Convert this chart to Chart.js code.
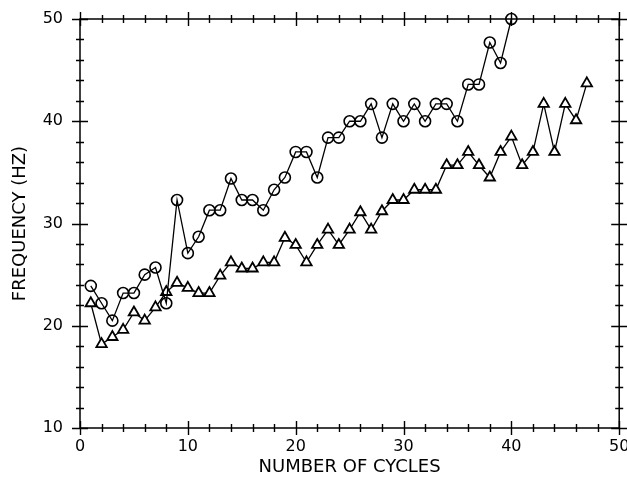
<!DOCTYPE html>
<html>
<head>
<meta charset="utf-8">
<script src="https://cdn.jsdelivr.net/npm/chart.js@4.4.1/dist/chart.umd.min.js"></script>
<style>
  html, body { margin: 0; padding: 0; background: #fff; }
  #wrap { width: 627px; height: 482px; }
</style>
</head>
<body>
<div id="wrap"><canvas id="chart" width="627" height="482"></canvas></div>
<script>
// cycle numbers
const circleCycles = [1, 2, 3, 4, 5, 6, 7, 8, 9, 10, 11, 12, 13, 14, 15, 16, 17, 18, 19, 20,
    21, 22, 23, 24, 25, 26, 27, 28, 29, 30, 31, 32, 33, 34, 35, 36, 37, 38, 39, 40];
const triangleCycles = [1, 2, 3, 4, 5, 6, 7, 8, 9, 10, 11, 12, 13, 14, 15, 16, 17, 18, 19, 20,
    21, 22, 23, 24, 25, 26, 27, 28, 29, 30, 31, 32, 33, 34, 35, 36, 37, 38, 39, 40,
    41, 42, 43, 44, 45, 46, 47];

// frequency (Hz)
const circleFreq = [23.9, 22.2, 20.5, 23.2, 23.2, 25.0, 25.7, 22.2, 32.3, 27.1,
    28.7, 31.3, 31.3, 34.4, 32.3, 32.3, 31.3, 33.3, 34.5, 37.0,
    37.0, 34.5, 38.4, 38.4, 40.0, 40.0, 41.7, 38.4, 41.7, 40.0,
    41.7, 40.0, 41.7, 41.7, 40.0, 43.6, 43.6, 47.7, 45.7, 50.0];
const triangleFreq = [22.2, 18.2, 18.9, 19.6, 21.3, 20.5, 21.8, 23.3, 24.2, 23.7,
    23.2, 23.2, 24.9, 26.2, 25.6, 25.6, 26.2, 26.2, 28.6, 27.9,
    26.2, 27.9, 29.4, 27.9, 29.4, 31.1, 29.4, 31.2, 32.3, 32.3,
    33.3, 33.3, 33.3, 35.7, 35.7, 37.0, 35.7, 34.5, 37.0, 38.5,
    35.7, 37.0, 41.7, 37.0, 41.7, 40.1, 43.7];

// axis ticks
const xTicks = [0, 10, 20, 30, 40, 50];
const yTicks = [10, 20, 30, 40, 50];

const toPoints = (xs, ys) => xs.map((x, i) => ({ x: x, y: ys[i] }));

// draws the little cross ticks on all four sides of the frame
const frameTicks = {
    id: 'frameTicks',
    beforeDatasetsDraw(chart) {
        const { ctx, chartArea: a, scales: { x, y } } = chart;
        ctx.save();
        ctx.strokeStyle = '#000';
        ctx.lineWidth = 1.4;
        ctx.beginPath();
        for (let v = 0; v <= 50; v += 2) {
            const px = Math.round(x.getPixelForValue(v)) + 0.5;
            const len = v % 10 === 0 ? 7 : 4;
            ctx.moveTo(px, a.top - len); ctx.lineTo(px, a.top + len);
            ctx.moveTo(px, a.bottom - len); ctx.lineTo(px, a.bottom + len);
        }
        for (let v = 10; v <= 50; v += 2) {
            const py = Math.round(y.getPixelForValue(v)) + 0.5;
            const len = v % 10 === 0 ? 8 : 4;
            ctx.moveTo(a.left - len, py); ctx.lineTo(a.left + len, py);
            ctx.moveTo(a.right - len, py); ctx.lineTo(a.right + len, py);
        }
        ctx.stroke();
        ctx.lineWidth = 1.5;
        ctx.strokeRect(a.left, a.top, a.right - a.left, a.bottom - a.top);
        ctx.restore();
    }
};

const font = { family: '"DejaVu Sans", sans-serif', size: 16 };

new Chart(document.getElementById('chart'), {
    type: 'scatter',
    data: {
        datasets: [{
            data: toPoints(circleCycles, circleFreq),
            showLine: true,
            clip: false,
            borderColor: '#000',
            borderWidth: 1.3,
            pointStyle: 'circle',
            pointRadius: 5.5,
            pointBackgroundColor: 'rgba(255,255,255,0)',
            pointBorderColor: '#000',
            pointBorderWidth: 1.6
        }, {
            data: toPoints(triangleCycles, triangleFreq),
            showLine: true,
            clip: false,
            borderColor: '#000',
            borderWidth: 1.3,
            pointStyle: 'triangle',
            pointRadius: 6,
            pointBackgroundColor: '#fff',
            pointBorderColor: '#000',
            pointBorderWidth: 1.8
        }]
    },
    options: {
        responsive: false,
        animation: false,
        layout: { padding: { top: 19, right: 6, left: 0, bottom: 0 } },
        plugins: { legend: { display: false }, tooltip: { enabled: false } },
        scales: {
            x: {
                type: 'linear', min: 0, max: 50,
                afterBuildTicks: s => { s.ticks = xTicks.map(v => ({ value: v })); },
                afterFit: s => { s.height = 54; s.paddingLeft = 0; s.paddingRight = 0; },
                grid: { display: false, drawTicks: false },
                border: { display: false },
                ticks: { color: '#000', font: font, padding: 9, maxRotation: 0 },
                title: {
                    display: true, text: 'NUMBER OF CYCLES', color: '#000',
                    font: { family: '"DejaVu Sans", sans-serif', size: 18 },
                    padding: { top: 0, bottom: 4 }
                }
            },
            y: {
                type: 'linear', min: 10, max: 50,
                afterBuildTicks: s => { s.ticks = yTicks.map(v => ({ value: v })); },
                afterFit: s => { s.width = 80; s.paddingTop = 0; s.paddingBottom = 0; },
                grid: { display: false, drawTicks: false },
                border: { display: false },
                ticks: { color: '#000', font: font, padding: 17 },
                title: {
                    display: true, text: 'FREQUENCY (HZ)', color: '#000',
                    font: { family: '"DejaVu Sans", sans-serif', size: 18 },
                    padding: { top: 10, bottom: 0 }
                }
            }
        }
    },
    plugins: [frameTicks]
});
</script>
</body>
</html>
